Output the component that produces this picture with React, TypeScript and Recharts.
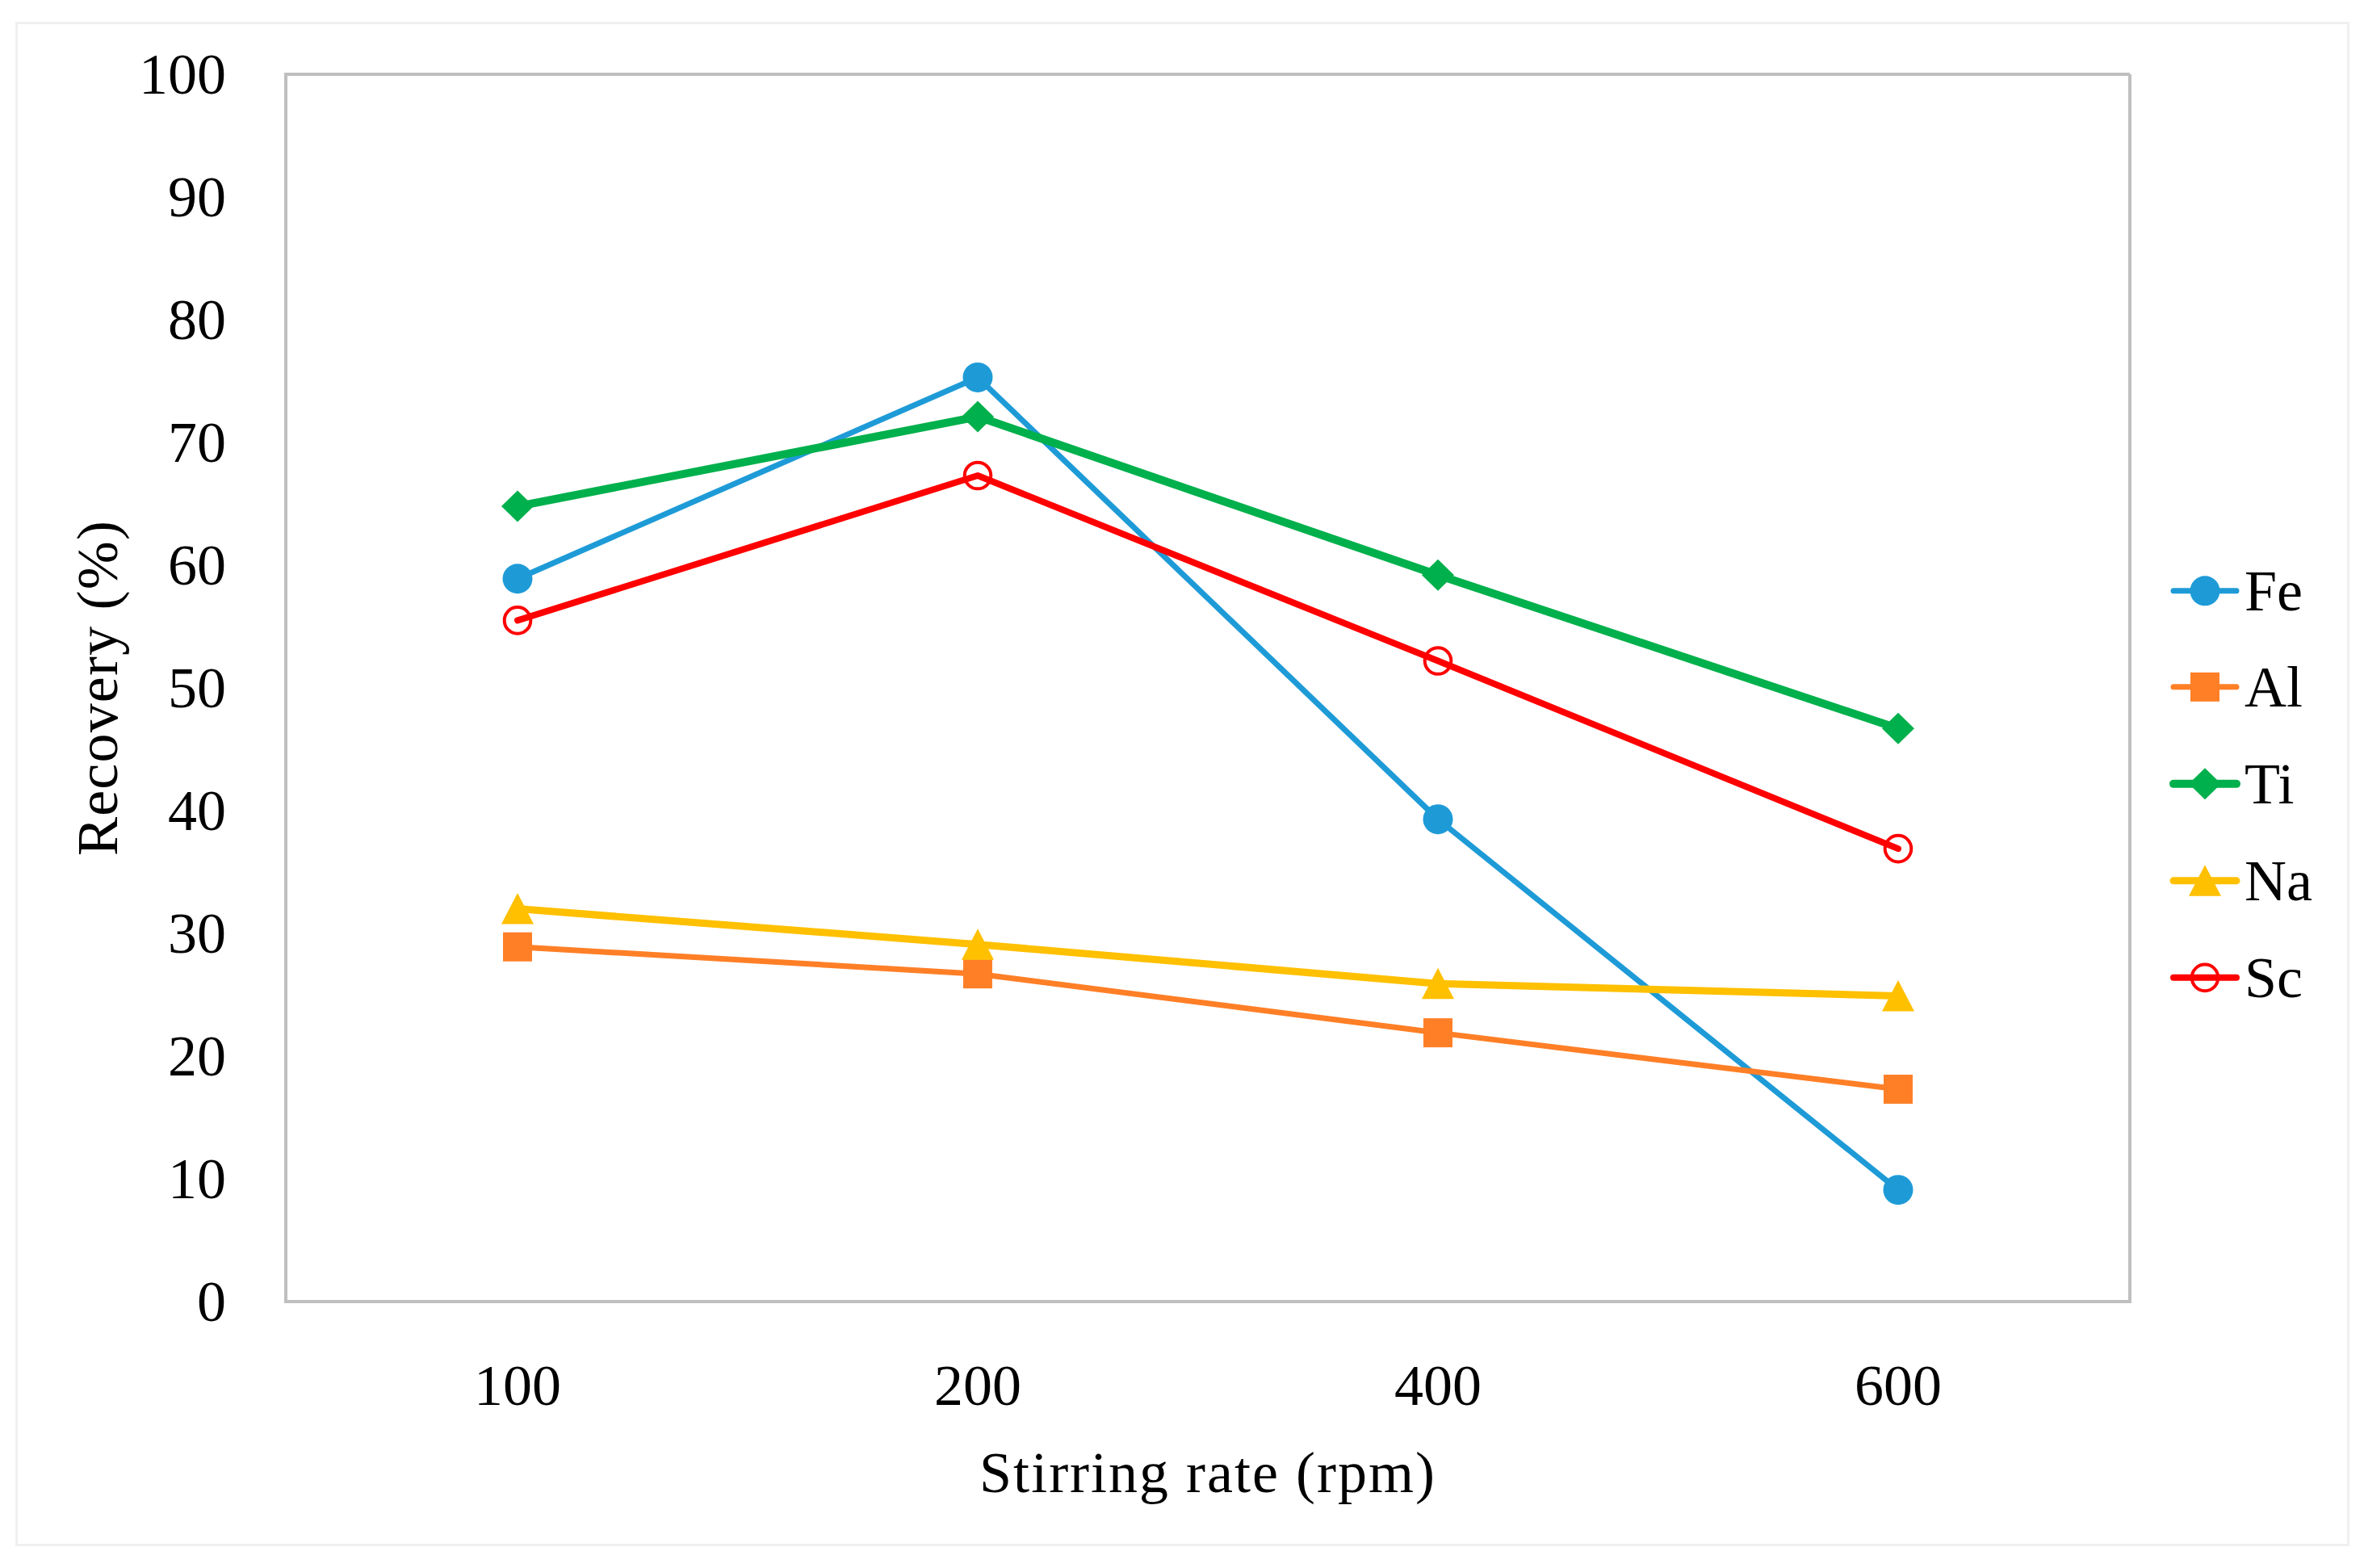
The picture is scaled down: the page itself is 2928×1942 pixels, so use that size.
import React from 'react';
import { LineChart, Line, XAxis, YAxis, Legend, Label, CartesianGrid } from 'recharts';

// ---- data ----
const rates = ['100', '200', '400', '600'];
const feValues = [58.9, 75.3, 39.3, 9.1];
const alValues = [28.9, 26.7, 21.9, 17.3];
const tiValues = [64.8, 72.1, 59.2, 46.7];
const naValues = [32.0, 29.1, 25.9, 24.9];
const scValues = [55.5, 67.3, 52.2, 36.9];
const yTicks = [0, 10, 20, 30, 40, 50, 60, 70, 80, 90, 100];
const seriesNames = ['Fe', 'Al', 'Ti', 'Na', 'Sc'];
const xTitle = 'Stirring rate (rpm)';
const yTitle = 'Recovery (%)';

const data = rates.map((rate, i) => ({
  rate,
  Fe: feValues[i],
  Al: alValues[i],
  Ti: tiValues[i],
  Na: naValues[i],
  Sc: scValues[i],
}));

const FONT = "'Liberation Serif', 'Times New Roman', serif";
const FONT_SIZE = 72;
const BORDER = '#BFBFBF';

type Shape = 'circle' | 'square' | 'diamond' | 'triangle' | 'ring';
const STYLE: Record<string, { color: string; width: number; shape: Shape }> = {
  Fe: { color: '#1E9BD7', width: 7, shape: 'circle' },
  Al: { color: '#FF7F27', width: 7, shape: 'square' },
  Ti: { color: '#00B04C', width: 10, shape: 'diamond' },
  Na: { color: '#FFC000', width: 9, shape: 'triangle' },
  Sc: { color: '#FF0000', width: 8, shape: 'ring' },
};

function Marker({ shape, cx, cy, color }: { shape: Shape; cx: number; cy: number; color: string }) {
  if (cx == null || cy == null || isNaN(cx) || isNaN(cy)) return null;
  switch (shape) {
    case 'circle':
      return <circle cx={cx} cy={cy} r={18.5} fill={color} />;
    case 'square':
      return <rect x={cx - 18} y={cy - 18} width={36} height={36} fill={color} />;
    case 'diamond':
      return (
        <polygon
          points={`${cx},${cy - 19.5} ${cx + 20},${cy} ${cx},${cy + 19.5} ${cx - 20},${cy}`}
          fill={color}
        />
      );
    case 'triangle':
      return (
        <polygon
          points={`${cx},${cy - 19.5} ${cx + 20},${cy + 19} ${cx - 20},${cy + 19}`}
          fill={color}
        />
      );
    case 'ring':
      return <circle cx={cx} cy={cy} r={16.3} fill="none" stroke={color} strokeWidth={4} />;
    default:
      return null;
  }
}

const XTick = (props: any) => {
  const { x, y, payload } = props;
  return (
    <text x={x} y={y + 128} textAnchor="middle" fontFamily={FONT} fontSize={FONT_SIZE} fill="#000">
      {payload.value}
    </text>
  );
};

const YTick = (props: any) => {
  const { x, y, payload } = props;
  return (
    <text x={x - 74} y={y + 24} textAnchor="end" fontFamily={FONT} fontSize={FONT_SIZE} fill="#000">
      {payload.value}
    </text>
  );
};

const XTitle = (props: any) => {
  const vb = props.viewBox || { x: 346, y: 1604, width: 2284, height: 322 };
  const cx = vb.x + vb.width / 2;
  return (
    <text
      x={cx}
      y={vb.y + 236}
      textAnchor="middle"
      fontFamily={FONT}
      fontSize={FONT_SIZE}
      letterSpacing={2}
      fill="#000"
    >
      {xTitle}
    </text>
  );
};

const YTitle = (props: any) => {
  const vb = props.viewBox || { x: 0, y: 84, width: 346, height: 1520 };
  const cx = vb.x + 113;
  const cy = vb.y + vb.height / 2;
  return (
    <text
      x={cx}
      y={cy}
      transform={`rotate(-90, ${cx}, ${cy})`}
      textAnchor="middle"
      dominantBaseline="central"
      fontFamily={FONT}
      fontSize={FONT_SIZE}
      letterSpacing={1.2}
      fill="#000"
    >
      {yTitle}
    </text>
  );
};

const ITEM_H = 119.7;
const LEGEND_W = 262;

const LegendBox = () => (
  <div style={{ width: LEGEND_W }}>
    {seriesNames.map((name) => {
      const s = STYLE[name];
      const cy = ITEM_H / 2;
      return (
        <svg key={name} width={LEGEND_W} height={ITEM_H} style={{ display: 'block' }}>
          <line x1={54} y1={cy} x2={132} y2={cy} stroke={s.color} strokeWidth={s.width} strokeLinecap="round" />
          <Marker shape={s.shape} cx={93} cy={cy} color={s.color} />
          <text x={142} y={cy + 24} fontFamily={FONT} fontSize={FONT_SIZE} fill="#000">
            {name}
          </text>
        </svg>
      );
    })}
  </div>
);

export default function App() {
  return (
    <div style={{ position: 'relative', width: 2912, height: 1926, background: '#fff' }}>
      <div
        style={{
          position: 'absolute',
          left: 11,
          top: 19,
          width: 2891,
          height: 1888,
          border: '3px solid #F0F0F0',
          boxSizing: 'border-box',
          pointerEvents: 'none',
        }}
      />
      <LineChart width={2912} height={1926} data={data} margin={{ top: 84, right: 20, bottom: 0, left: 0 }}>
        <CartesianGrid
          stroke={BORDER}
          strokeWidth={4}
          fill="none"
          horizontalCoordinatesGenerator={(p: any) => [p.offset.top, p.offset.top + p.offset.height]}
          verticalCoordinatesGenerator={(p: any) => [p.offset.left, p.offset.left + p.offset.width]}
        />
        <XAxis
          dataKey="rate"
          type="category"
          padding={{ left: 287, right: 287 }}
          height={322}
          tickLine={false}
          tickSize={0}
          tickMargin={0}
          tick={<XTick />}
          interval={0}
          axisLine={{ stroke: BORDER, strokeWidth: 4, strokeLinecap: 'square' }}
        >
          <Label content={<XTitle />} />
        </XAxis>
        <YAxis
          domain={[0, 100]}
          ticks={yTicks}
          interval={0}
          width={346}
          tickLine={false}
          tickSize={0}
          tickMargin={0}
          tick={<YTick />}
          axisLine={{ stroke: BORDER, strokeWidth: 4, strokeLinecap: 'square' }}
        >
          <Label content={<YTitle />} />
        </YAxis>
        <Legend layout="vertical" align="right" verticalAlign="middle" content={() => <LegendBox />} />
        {seriesNames.map((name) => {
          const s = STYLE[name];
          return (
            <Line
              key={name}
              type="linear"
              dataKey={name}
              name={name}
              stroke={s.color}
              strokeWidth={s.width}
              strokeLinejoin="round"
              strokeLinecap="round"
              isAnimationActive={false}
              activeDot={false}
              dot={(p: any) => (
                <Marker key={`${name}-${p.index}`} shape={s.shape} cx={p.cx} cy={p.cy} color={s.color} />
              )}
            />
          );
        })}
      </LineChart>
    </div>
  );
}
